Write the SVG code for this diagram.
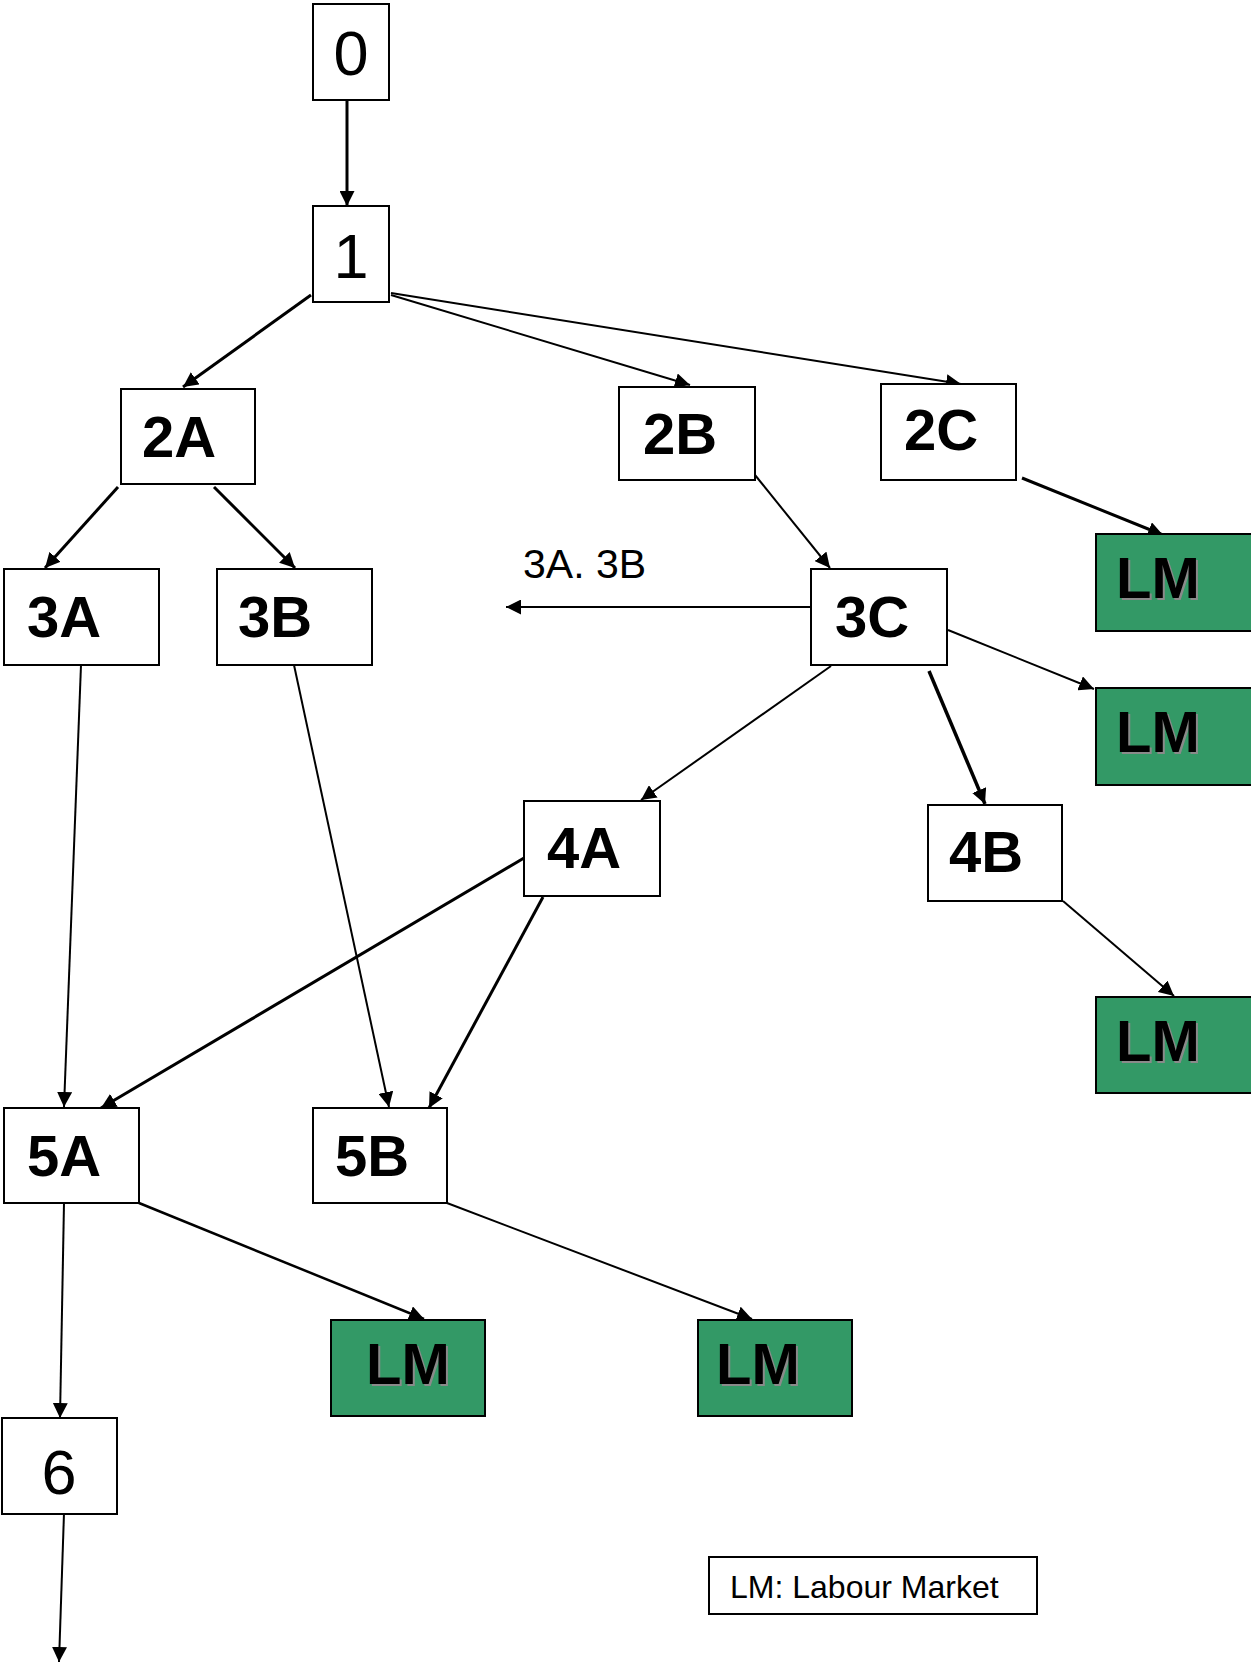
<svg xmlns="http://www.w3.org/2000/svg" width="1251" height="1664" viewBox="0 0 1251 1664">
<style>
.box{fill:#fff;stroke:#000;stroke-width:2}
.lm{fill:#339966;stroke:#000;stroke-width:2}
.num{font-family:"Liberation Sans",Arial,sans-serif;font-size:63px;fill:#000;text-anchor:middle}
.lbl{font-family:"Liberation Sans",Arial,sans-serif;font-size:58px;font-weight:bold;fill:#000}
.lmt{font-family:"Liberation Sans",Arial,sans-serif;font-size:58px;font-weight:bold;fill:#000}
.lms{font-family:"Liberation Sans",Arial,sans-serif;font-size:58px;font-weight:bold;fill:#8a8a8a}
.txt{font-family:"Liberation Sans",Arial,sans-serif;fill:#000}
.c{stroke:#000;fill:none;marker-end:url(#ah)}
.t2{stroke-width:2}
.t3{stroke-width:3}
</style>
<defs>
<marker id="ah" viewBox="0 0 15 15" refX="15" refY="7.5" markerWidth="15" markerHeight="15" markerUnits="userSpaceOnUse" orient="auto">
<path d="M0,0 L15,7.5 L0,15 z" fill="#000"/>
</marker>
</defs>
<rect width="1251" height="1664" fill="#fff"/>
<g id="connectors">
<line class="c t3" x1="347" y1="95" x2="347" y2="206"/>
<line class="c t3" x1="311" y1="295" x2="183" y2="387"/>
<line class="c t2" x1="391" y1="295" x2="690" y2="385"/>
<line class="c t2" x1="391" y1="293" x2="961" y2="384"/>
<line class="c t3" x1="118" y1="487" x2="45" y2="568"/>
<line class="c t3" x1="214" y1="487" x2="295" y2="568"/>
<line class="c t2" x1="755" y1="475" x2="830" y2="568"/>
<line class="c t3" x1="1022" y1="478" x2="1163" y2="535"/>
<line class="c t2" x1="811" y1="607" x2="506" y2="607"/>
<line class="c t2" x1="948" y1="630" x2="1094" y2="689"/>
<line class="c t2" x1="831" y1="666" x2="641" y2="800"/>
<line class="c" stroke-width="3.5" x1="929" y1="671" x2="985" y2="804"/>
<line class="c t2" x1="1063" y1="901" x2="1174" y2="996"/>
<line class="c t3" x1="524" y1="858" x2="101" y2="1108"/>
<line class="c t3" x1="543" y1="897" x2="429" y2="1108"/>
<line class="c t2" x1="81" y1="665" x2="64" y2="1107"/>
<line class="c t2" x1="294" y1="665" x2="389" y2="1107"/>
<line class="c" stroke-width="2.5" x1="139" y1="1203" x2="424" y2="1319"/>
<line class="c t2" x1="447" y1="1203" x2="752" y2="1319"/>
<line class="c t2" x1="64" y1="1203" x2="60" y2="1418"/>
<line class="c t2" x1="64" y1="1513" x2="59" y2="1662"/>
<text class="txt" x="523" y="578" font-size="41">3A. 3B</text>
</g>
<g id="n0"><rect class="box" x="313" y="4" width="76" height="96"/><text class="num" x="351" y="75">0</text></g>
<g id="n1"><rect class="box" x="313" y="206" width="76" height="96"/><text class="num" x="351" y="278">1</text></g>
<g id="n2A"><rect class="box" x="121" y="389" width="134" height="95"/><text class="lbl" x="142" y="457">2A</text></g>
<g id="n2B"><rect class="box" x="619" y="387" width="136" height="93"/><text class="lbl" x="643" y="454">2B</text></g>
<g id="n2C"><rect class="box" x="881" y="384" width="135" height="96"/><text class="lbl" x="904" y="450">2C</text></g>
<g id="n3A"><rect class="box" x="4" y="569" width="155" height="96"/><text class="lbl" x="27" y="637">3A</text></g>
<g id="n3B"><rect class="box" x="217" y="569" width="155" height="96"/><text class="lbl" x="238" y="637">3B</text></g>
<g id="n3C"><rect class="box" x="811" y="569" width="136" height="96"/><text class="lbl" x="835" y="637">3C</text></g>
<g id="n4A"><rect class="box" x="524" y="801" width="136" height="95"/><text class="lbl" x="547" y="868">4A</text></g>
<g id="n4B"><rect class="box" x="928" y="805" width="134" height="96"/><text class="lbl" x="949" y="872">4B</text></g>
<g id="n5A"><rect class="box" x="4" y="1108" width="135" height="95"/><text class="lbl" x="27" y="1176">5A</text></g>
<g id="n5B"><rect class="box" x="313" y="1108" width="134" height="95"/><text class="lbl" x="335" y="1176">5B</text></g>
<g id="n6"><rect class="box" x="2" y="1418" width="115" height="96"/><text class="num" x="59" y="1494" font-size="72">6</text></g>
<g id="lm1"><rect class="lm" x="1096" y="534" width="156" height="97"/><text class="lms" x="1118" y="600">LM</text><text class="lmt" x="1116" y="598">LM</text></g>
<g id="lm2"><rect class="lm" x="1096" y="688" width="156" height="97"/><text class="lms" x="1118" y="754">LM</text><text class="lmt" x="1116" y="752">LM</text></g>
<g id="lm3"><rect class="lm" x="1096" y="997" width="156" height="96"/><text class="lms" x="1118" y="1063">LM</text><text class="lmt" x="1116" y="1061">LM</text></g>
<g id="lm4"><rect class="lm" x="331" y="1320" width="154" height="96"/><text class="lms" x="368" y="1386">LM</text><text class="lmt" x="366" y="1384">LM</text></g>
<g id="lm5"><rect class="lm" x="698" y="1320" width="154" height="96"/><text class="lms" x="718" y="1386">LM</text><text class="lmt" x="716" y="1384">LM</text></g>
<g id="legend"><rect class="box" x="709" y="1557" width="328" height="57"/><text class="txt" x="730" y="1598" font-size="32">LM: Labour Market</text></g>
</svg>
